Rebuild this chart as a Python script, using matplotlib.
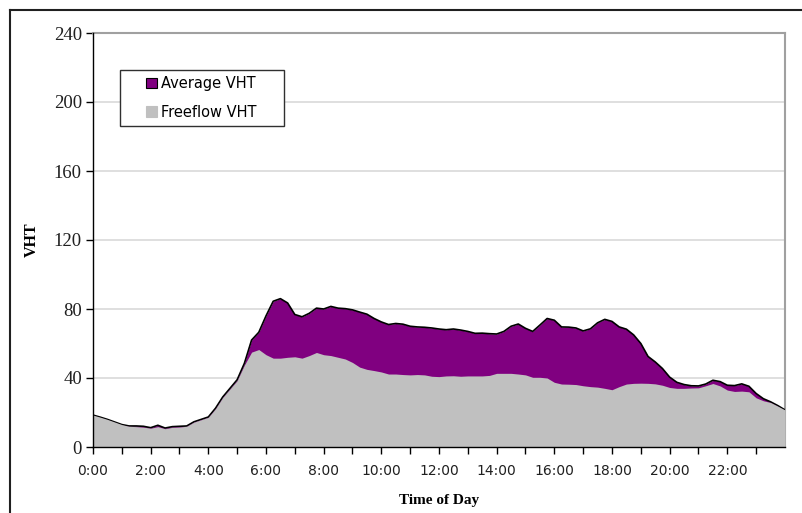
import matplotlib
matplotlib.use("Agg")
import matplotlib.pyplot as plt
from matplotlib.patches import Patch, Rectangle
from matplotlib.lines import Line2D

# time of day in hours, 15-minute steps
hours = [i * 0.25 for i in range(97)]

average_vht = [
    18.5, 17.3, 16.0, 14.5, 13.0, 12.2, 12.2, 12.0,
    11.2, 12.6, 11.0, 11.8, 12.0, 12.2, 14.6, 16.0,
    17.4, 22.5, 29.0, 34.0, 39.0, 48.5, 62.0, 66.5,
    76.0, 84.5, 86.0, 83.5, 76.8, 75.5, 77.5, 80.5,
    80.0, 81.5, 80.5, 80.2, 79.5, 78.2, 77.0, 74.5,
    72.5, 71.0, 71.6, 71.2, 70.0, 69.6, 69.4, 69.0,
    68.4, 68.0, 68.4, 67.8, 67.0, 65.9, 66.0, 65.7,
    65.5, 67.0, 70.0, 71.3, 68.8, 67.0, 70.7, 74.5,
    73.5, 69.6, 69.5, 69.0, 67.3, 68.5, 72.0, 74.0,
    72.8, 69.6, 68.3, 65.0, 60.0, 52.5, 49.3, 45.5,
    40.5, 37.5, 36.2, 35.5, 35.4, 36.5, 38.7, 37.9,
    35.8, 35.6, 36.6, 35.2, 31.0, 28.0, 26.2, 24.0,
    21.5,
]

freeflow_vht = [
    18.5, 17.3, 16.0, 14.5, 13.0, 12.0, 11.8, 11.5,
    10.9, 11.8, 10.6, 11.4, 11.6, 12.0, 14.4, 15.8,
    17.2, 22.2, 28.7, 33.6, 38.5, 47.5, 55.0, 56.5,
    53.5, 51.5, 51.5, 52.0, 52.3, 51.5, 53.0, 54.8,
    53.5, 53.0, 52.0, 51.0, 49.0, 46.3, 45.0, 44.3,
    43.5, 42.3, 42.3, 42.0, 41.8, 42.0, 41.8, 41.0,
    40.8, 41.2, 41.3, 41.0, 41.2, 41.2, 41.2, 41.5,
    42.7, 42.7, 42.7, 42.3, 41.8, 40.4, 40.4, 40.0,
    37.5, 36.5, 36.4, 36.2, 35.5, 35.0, 34.7, 34.0,
    33.2, 35.0, 36.5, 36.9, 37.0, 36.9, 36.6, 35.8,
    34.5, 34.0, 34.0, 34.2, 34.3, 35.5, 36.8, 35.4,
    33.0, 32.2, 32.4, 32.0, 28.5, 26.8, 25.8, 23.7,
    21.5,
]

hour_ticks = list(range(24))
hour_labels = ["%d:00" % h if h % 2 == 0 else "" for h in hour_ticks]
y_ticks = [0, 40, 80, 120, 160, 200, 240]

fig = plt.figure(figsize=(8.03, 5.13), dpi=100)
ax = fig.add_axes([93 / 803, 1 - 447 / 513, 692 / 803, 414 / 513])

# outer chart border (left and top visible)
fig.add_artist(Line2D([10 / 803, 10 / 803], [0, 1 - 10 / 513], color="#202020", lw=1.5))
fig.add_artist(Line2D([10 / 803, 1], [1 - 10 / 513, 1 - 10 / 513], color="#202020", lw=1.5))

ax.fill_between(hours, average_vht, 0, color="#800080", lw=0, zorder=2)
ax.plot(hours, average_vht, color="black", lw=1.2, zorder=3)
ax.fill_between(hours, freeflow_vht, 0, color="#c0c0c0", lw=0, zorder=4)

ax.set_xlim(0, 24)
ax.set_ylim(0, 240)
ax.set_yticks(y_ticks)
ax.set_xticks(hour_ticks)
ax.set_xticklabels(hour_labels, fontfamily="DejaVu Sans", fontsize=10, color="#202020")
ax.set_yticklabels([str(v) for v in y_ticks], fontfamily="Liberation Serif", fontsize=13.5, color="#202020")
ax.tick_params(axis="x", direction="out", length=5, width=1, pad=7)
ax.tick_params(axis="y", direction="out", length=5, width=1, pad=3)

ax.yaxis.grid(True, color="#d9d9d9", lw=1.2)
ax.set_axisbelow(True)

for side in ["top", "right"]:
    ax.spines[side].set_color("#a0a0a0")
    ax.spines[side].set_linewidth(1.5)
for side in ["left", "bottom"]:
    ax.spines[side].set_color("black")
    ax.spines[side].set_linewidth(1.0)
    ax.spines[side].set_zorder(6)

ax.set_ylabel("VHT", fontfamily="Liberation Serif", fontweight="bold", fontsize=11.5, labelpad=10)
ax.set_xlabel("Time of Day", fontfamily="Liberation Serif", fontweight="bold", fontsize=11, labelpad=12)

# legend box drawn separately so the side padding can be wider than top/bottom
ax.add_patch(Rectangle((27 / 692, 321 / 414), 164 / 692, 56 / 414, transform=ax.transAxes,
                       facecolor="white", edgecolor="#303030", lw=1.0, zorder=9))
handles = [
    Patch(facecolor="#800080", edgecolor="black", lw=0.8, label="Average VHT"),
    Patch(facecolor="#c0c0c0", edgecolor="#c0c0c0", lw=0.8, label="Freeflow VHT"),
]
leg = ax.legend(handles=handles, loc="upper left", bbox_to_anchor=(53 / 692, 1 - 43 / 414),
                borderaxespad=0, frameon=False, borderpad=0,
                prop={"family": "DejaVu Sans", "size": 10.5}, handlelength=0.75, handleheight=0.75,
                handletextpad=0.3, labelspacing=0.95)
leg.set_zorder(10)

fig.savefig("out.png", dpi=100)
